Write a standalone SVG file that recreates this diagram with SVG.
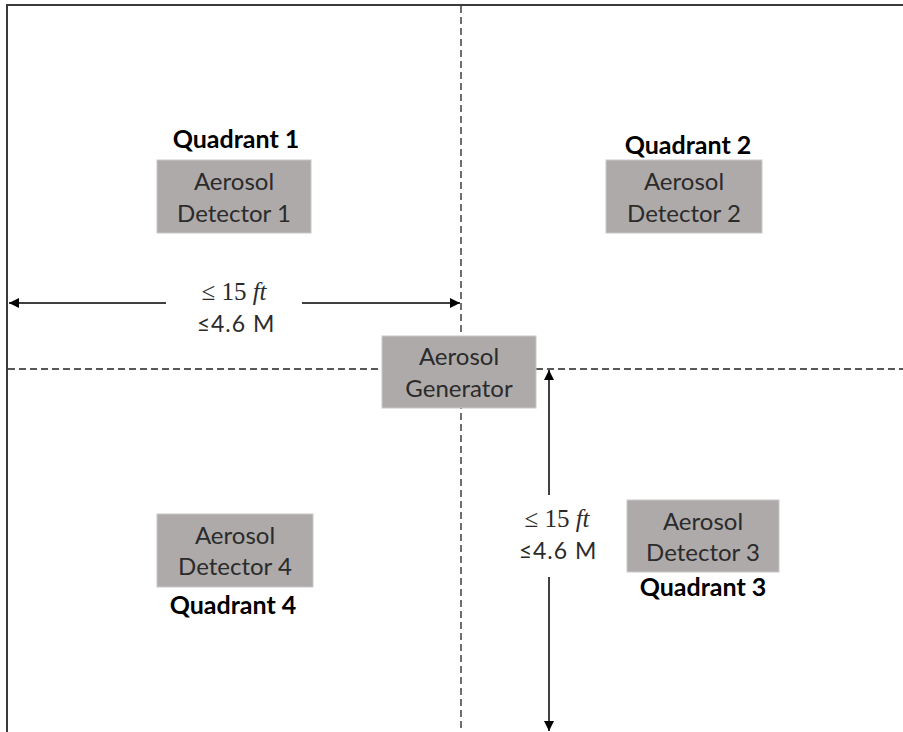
<svg xmlns="http://www.w3.org/2000/svg" width="903" height="732" viewBox="0 0 903 732">
  <defs>
    <style>
      .frame { stroke: #3a3a3a; stroke-width: 2; fill: none; }
      .dash { stroke: #222; stroke-width: 1.3; stroke-dasharray: 7 4; fill: none; }
      .dim { stroke: #000; stroke-width: 1.5; fill: none; }
      .box { fill: #aeaaaa; stroke: #c9c6c6; stroke-width: 1; }
      .lbl { font-family: "Lato", "Open Sans", sans-serif; font-size: 24px; fill: #2b2b2b; text-anchor: middle; }
      .quad { font-family: "Lato", "Open Sans", sans-serif; font-size: 25px; font-weight: bold; fill: #000; text-anchor: middle; }
      .meas { font-family: "Lato", "Liberation Sans", sans-serif; font-size: 23px; letter-spacing: 1px; fill: #2b2b2b; text-anchor: middle; }
      .math { font-family: "Liberation Serif", "DejaVu Serif", serif; font-size: 25px; fill: #2b2b2b; text-anchor: middle; }
    </style>
    <marker id="ah" viewBox="0 0 10 10" refX="10" refY="5" markerWidth="10" markerHeight="10" markerUnits="userSpaceOnUse" orient="auto-start-reverse">
      <path d="M0,0 L10,5 L0,10 z" fill="#000"/>
    </marker>
  </defs>
  <rect width="903" height="732" fill="#fff"/>

  <g id="frame">
    <path class="frame" d="M7,732 L7,5 L903,5"/>
  </g>

  <g id="connectors">
    <line class="dash" x1="461" y1="6" x2="461" y2="732"/>
    <line class="dash" x1="8" y1="369" x2="903" y2="369"/>
    <line class="dim" x1="9" y1="303" x2="166" y2="303" marker-start="url(#ah)"/>
    <line class="dim" x1="302" y1="303" x2="460" y2="303" marker-end="url(#ah)"/>
    <line class="dim" x1="549" y1="370" x2="549" y2="495" marker-start="url(#ah)"/>
    <line class="dim" x1="549" y1="577" x2="549" y2="731" marker-end="url(#ah)"/>
  </g>

  <g id="dim-horizontal">
    <text class="math" x="234" y="300">≤ 15 <tspan font-style="italic">ft</tspan></text>
    <text class="meas" x="236" y="332">≤4.6 M</text>
  </g>
  <g id="dim-vertical">
    <text class="math" x="557" y="527">≤ 15 <tspan font-style="italic">ft</tspan></text>
    <text class="meas" x="558" y="559">≤4.6 M</text>
  </g>

  <g id="detector1">
    <text class="quad" x="236" y="148">Quadrant 1</text>
    <rect class="box" x="157" y="160" width="154" height="73"/>
    <text class="lbl" x="234" y="190">Aerosol</text>
    <text class="lbl" x="234" y="222">Detector 1</text>
  </g>

  <g id="detector2">
    <text class="quad" x="688" y="154">Quadrant 2</text>
    <rect class="box" x="606" y="160" width="156" height="73"/>
    <text class="lbl" x="684" y="190">Aerosol</text>
    <text class="lbl" x="684" y="222">Detector 2</text>
  </g>

  <g id="generator">
    <rect class="box" x="382" y="336" width="154" height="72"/>
    <text class="lbl" x="459" y="365">Aerosol</text>
    <text class="lbl" x="459" y="397">Generator</text>
  </g>

  <g id="detector3">
    <rect class="box" x="627" y="500" width="152" height="72"/>
    <text class="lbl" x="703" y="530">Aerosol</text>
    <text class="lbl" x="703" y="561">Detector 3</text>
    <text class="quad" x="703" y="596">Quadrant 3</text>
  </g>

  <g id="detector4">
    <rect class="box" x="157" y="514" width="156" height="73"/>
    <text class="lbl" x="235" y="544">Aerosol</text>
    <text class="lbl" x="235" y="575">Detector 4</text>
    <text class="quad" x="233" y="614">Quadrant 4</text>
  </g>
</svg>
